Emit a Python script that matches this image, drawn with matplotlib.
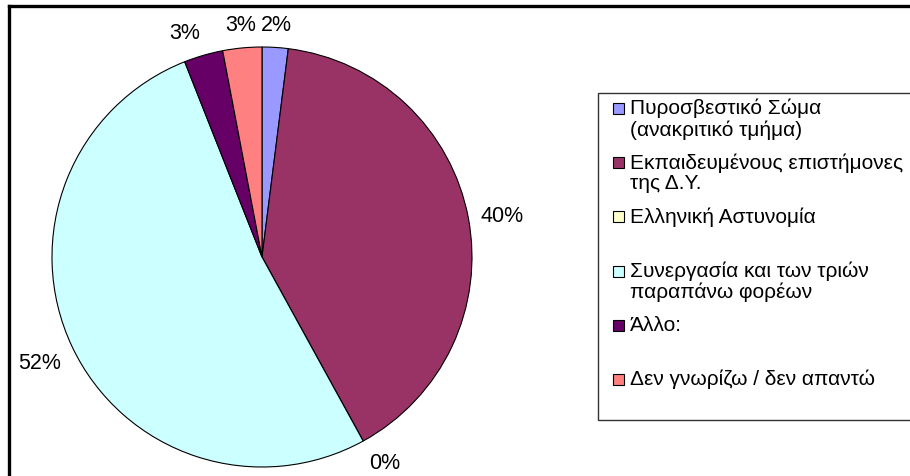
import numpy as np
import matplotlib
matplotlib.use("Agg")
import matplotlib.pyplot as plt
from matplotlib.patches import Rectangle
from matplotlib.lines import Line2D

plt.rcParams['font.family'] = ['Liberation Sans', 'DejaVu Sans']

# ---- data ----
categories = [
    "Πυροσβεστικό Σώμα\n(ανακριτικό τμήμα)",
    "Εκπαιδευμένους επιστήμονες\nτης Δ.Υ.",
    "Ελληνική Αστυνομία",
    "Συνεργασία και των τριών\nπαραπάνω φορέων",
    "Άλλο:",
    "Δεν γνωρίζω / δεν απαντώ",
]
values = [2, 40, 0, 52, 3, 3]
colors = ["#9999FF", "#993366", "#FFFFCC", "#CCFFFF", "#660066", "#FF8080"]

W, H = 910, 477
fig = plt.figure(figsize=(W / 100, H / 100), dpi=100)

# pie axes (square, in pixel terms)
cx, cy, R = 262, 258, 210
ax = fig.add_axes([(cx - R) / W, (H - cy - R) / H, 2 * R / W, 2 * R / H])
wedges, _ = ax.pie(values, colors=colors, startangle=90, counterclock=False,
                   wedgeprops=dict(edgecolor="black", linewidth=0.8))
ax.set_xlim(-1, 1)
ax.set_ylim(-1, 1)
ax.set_aspect("equal")

# percentage labels outside the slices, Excel-like alignment
total = sum(values)
for w, v in zip(wedges, values):
    ang = np.deg2rad((w.theta1 + w.theta2) / 2)
    c, s = np.cos(ang), np.sin(ang)
    ha = "left" if c > 0.2 else ("right" if c < -0.2 else "center")
    va = "bottom" if s > 0.3 else ("top" if s < -0.3 else "center")
    ax.text(1.06 * c, 1.06 * s, f"{v / total * 100:.0f}%", ha=ha, va=va,
            fontsize=15.5, clip_on=False)

# outer frame lines
fig.add_artist(Line2D([8.5 / W, 1.0], [1 - 7 / H, 1 - 7 / H], color="black",
                      linewidth=2.4, transform=fig.transFigure))
fig.add_artist(Line2D([8.5 / W, 8.5 / W], [0, 1 - 7 / H], color="black",
                      linewidth=2.4, transform=fig.transFigure))

# legend box drawn by hand (Excel style: swatch aligned with first line)
lx0, ly0, ly1 = 598, 94, 421
fig.add_artist(Rectangle((lx0 / W, 1 - ly1 / H), (W + 5 - lx0) / W, (ly1 - ly0) / H,
                         transform=fig.transFigure, facecolor="white",
                         edgecolor="#333333", linewidth=1.0))
step = 54.2
for i, (lab, col) in enumerate(zip(categories, colors)):
    ytop = 100 + i * step
    fig.add_artist(Rectangle((613 / W, 1 - (ytop + 15) / H), 11 / W, 11 / H,
                             transform=fig.transFigure, facecolor=col,
                             edgecolor="black", linewidth=0.8))
    fig.text(630 / W, 1 - (ytop - 1) / H, lab, ha="left", va="top",
             fontsize=15, linespacing=1.1)

fig.savefig("out.png", dpi=100)
